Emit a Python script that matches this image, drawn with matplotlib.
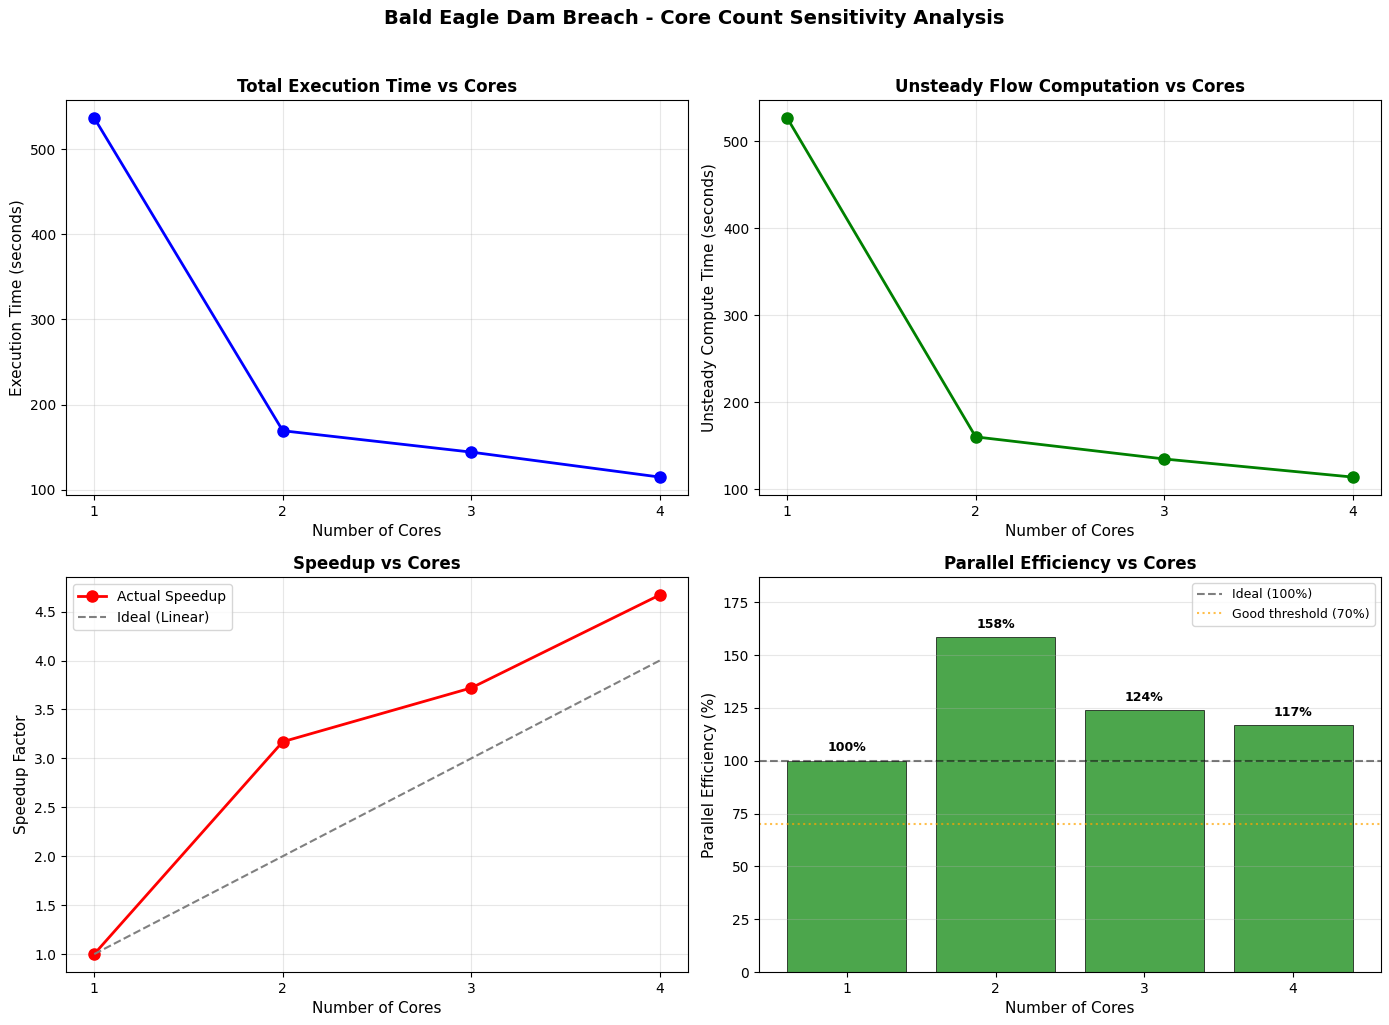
import matplotlib
matplotlib.use('Agg')
from matplotlib import pyplot as plt

cores = [1, 2, 3, 4]
total_time = [536.5, 169.4, 144.3, 115.0]
unsteady_time = [526.5, 160.0, 134.6, 113.8]
speedup = [1.0, 3.17, 3.72, 4.67]
ideal_speedup = [1, 2, 3, 4]
efficiency = [100.0, 158.4, 124.0, 116.7]

fig, axes = plt.subplots(2, 2, figsize=(13.89, 10.25), dpi=100)
fig.suptitle('Bald Eagle Dam Breach - Core Count Sensitivity Analysis',
             fontsize=14, fontweight='bold', y=0.982, va='center')

# total time
ax = axes[0, 0]
ax.plot(cores, total_time, 'o-', color='blue', linewidth=2, markersize=8)
ax.set_xlabel('Number of Cores', fontsize=11)
ax.set_ylabel('Execution Time (seconds)', fontsize=11)
ax.set_title('Total Execution Time vs Cores', fontsize=12, fontweight='bold')
ax.set_xticks(cores)
ax.grid(True, alpha=0.3)

# unsteady compute
ax = axes[0, 1]
ax.plot(cores, unsteady_time, 'o-', color='green', linewidth=2, markersize=8)
ax.set_xlabel('Number of Cores', fontsize=11)
ax.set_ylabel('Unsteady Compute Time (seconds)', fontsize=11)
ax.set_title('Unsteady Flow Computation vs Cores', fontsize=12, fontweight='bold')
ax.set_xticks(cores)
ax.grid(True, alpha=0.3)

# speedup
ax = axes[1, 0]
ax.plot(cores, speedup, 'o-', color='red', linewidth=2, markersize=8, label='Actual Speedup')
ax.plot(cores, ideal_speedup, '--', color='gray', label='Ideal (Linear)')
ax.set_xlabel('Number of Cores', fontsize=11)
ax.set_ylabel('Speedup Factor', fontsize=11)
ax.set_title('Speedup vs Cores', fontsize=12, fontweight='bold')
ax.set_xticks(cores)
ax.legend(loc='upper left')
ax.grid(True, alpha=0.3)

# efficiency
ax = axes[1, 1]
bars = ax.bar(cores, efficiency, color='green', alpha=0.7, edgecolor='black', linewidth=0.7)
ax.axhline(100, color='black', linestyle='--', alpha=0.5, label='Ideal (100%)')
ax.axhline(70, color='orange', linestyle=':', alpha=0.7, label='Good threshold (70%)')
for b, e in zip(bars, efficiency):
    ax.text(b.get_x() + b.get_width() / 2, b.get_height() + 3, f'{e:.0f}%',
            ha='center', va='bottom', fontsize=9, fontweight='bold')
ax.set_xlabel('Number of Cores', fontsize=11)
ax.set_ylabel('Parallel Efficiency (%)', fontsize=11)
ax.set_title('Parallel Efficiency vs Cores', fontsize=12, fontweight='bold')
ax.set_xticks(cores)
ax.set_ylim(0, max(efficiency) * 1.18)
ax.legend(loc='upper right', fontsize=9)
ax.grid(True, alpha=0.3, axis='y')

plt.subplots_adjust(left=0.0475, right=0.9942, top=0.9024, bottom=0.0517,
                    wspace=0.114, hspace=0.2076)
plt.savefig('out.png', dpi=100)
